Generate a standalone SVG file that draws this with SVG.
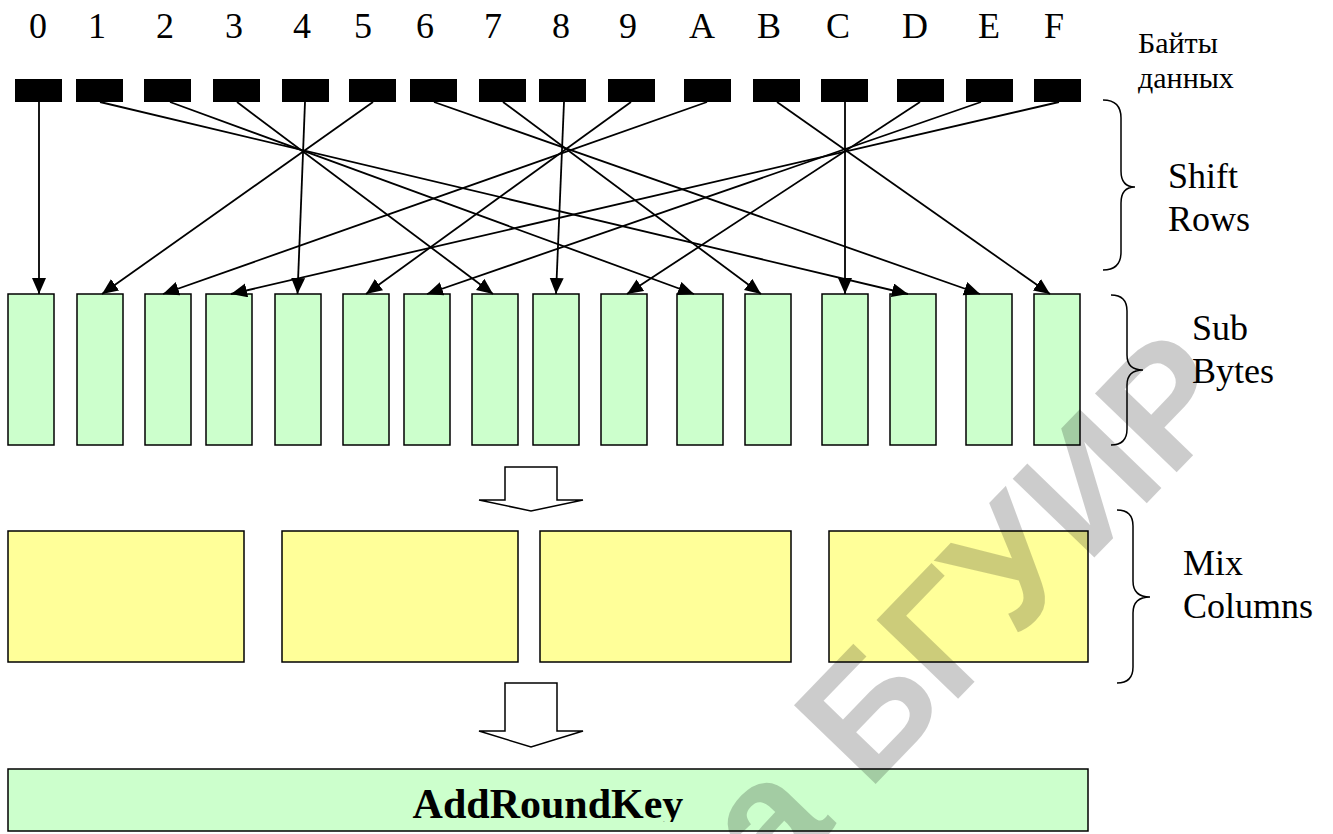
<svg xmlns="http://www.w3.org/2000/svg" width="1333" height="834" viewBox="0 0 1333 834">
<style>
.lbl{font-family:"Liberation Serif","Times New Roman",serif;fill:#000}
.dig{font-size:36px;text-anchor:middle}
.side{font-size:36px}
.small{font-size:30px}
.inb{fill:#000;stroke:none}
.sb{fill:#CCFFCC;stroke:#000;stroke-width:1.5}
.mc{fill:#FFFF99;stroke:#000;stroke-width:1.5}
.conn line{stroke:#000;stroke-width:1.8;marker-end:url(#ah)}
.brace{fill:none;stroke:#000;stroke-width:1.5}
.blk{fill:#fff;stroke:#000;stroke-width:1.5;stroke-linejoin:miter}
.wm{font-family:"Liberation Sans",Arial,sans-serif;font-weight:bold;font-size:165px;fill:#000;fill-opacity:0.2}
</style>
<defs>
<marker id="ah" markerUnits="userSpaceOnUse" markerWidth="17" markerHeight="15" refX="16" refY="7" orient="auto">
<path d="M0,0 L16,7 L0,14 z" fill="#000"/>
</marker>
<clipPath id="arkclip"><rect x="8" y="769" width="1080" height="53"/></clipPath>
</defs>
<rect width="1333" height="834" fill="#fff"/>

<g id="index-labels" class="lbl dig">
<text x="38" y="38">0</text>
<text x="97" y="38">1</text>
<text x="165" y="38">2</text>
<text x="234" y="38">3</text>
<text x="302" y="38">4</text>
<text x="363" y="38">5</text>
<text x="425" y="38">6</text>
<text x="493" y="38">7</text>
<text x="561" y="38">8</text>
<text x="628" y="38">9</text>
<text x="702" y="38">A</text>
<text x="769" y="38">B</text>
<text x="838" y="38">C</text>
<text x="915" y="38">D</text>
<text x="989" y="38">E</text>
<text x="1054" y="38">F</text>
</g>

<g id="input-bytes">
<rect id="in0" class="inb" x="15" y="79" width="47" height="23"/>
<rect id="in1" class="inb" x="76" y="79" width="47" height="23"/>
<rect id="in2" class="inb" x="144" y="79" width="47" height="23"/>
<rect id="in3" class="inb" x="213" y="79" width="47" height="23"/>
<rect id="in4" class="inb" x="282" y="79" width="47" height="23"/>
<rect id="in5" class="inb" x="349" y="79" width="47" height="23"/>
<rect id="in6" class="inb" x="410" y="79" width="47" height="23"/>
<rect id="in7" class="inb" x="479" y="79" width="47" height="23"/>
<rect id="in8" class="inb" x="539" y="79" width="47" height="23"/>
<rect id="in9" class="inb" x="608" y="79" width="47" height="23"/>
<rect id="inA" class="inb" x="684" y="79" width="47" height="23"/>
<rect id="inB" class="inb" x="753" y="79" width="47" height="23"/>
<rect id="inC" class="inb" x="821" y="79" width="47" height="23"/>
<rect id="inD" class="inb" x="897" y="79" width="47" height="23"/>
<rect id="inE" class="inb" x="966" y="79" width="47" height="23"/>
<rect id="inF" class="inb" x="1034" y="79" width="47" height="23"/>
</g>

<g id="sub-bytes">
<rect id="sb0" class="sb" x="8" y="294" width="46" height="151"/>
<rect id="sb1" class="sb" x="77" y="294" width="46" height="151"/>
<rect id="sb2" class="sb" x="145" y="294" width="46" height="151"/>
<rect id="sb3" class="sb" x="206" y="294" width="46" height="151"/>
<rect id="sb4" class="sb" x="275" y="294" width="46" height="151"/>
<rect id="sb5" class="sb" x="343" y="294" width="46" height="151"/>
<rect id="sb6" class="sb" x="404" y="294" width="46" height="151"/>
<rect id="sb7" class="sb" x="472" y="294" width="46" height="151"/>
<rect id="sb8" class="sb" x="533" y="294" width="46" height="151"/>
<rect id="sb9" class="sb" x="601" y="294" width="46" height="151"/>
<rect id="sbA" class="sb" x="677" y="294" width="46" height="151"/>
<rect id="sbB" class="sb" x="745" y="294" width="46" height="151"/>
<rect id="sbC" class="sb" x="822" y="294" width="46" height="151"/>
<rect id="sbD" class="sb" x="890" y="294" width="46" height="151"/>
<rect id="sbE" class="sb" x="966" y="294" width="46" height="151"/>
<rect id="sbF" class="sb" x="1034" y="294" width="46" height="151"/>
</g>

<g id="connectors" class="conn">
<line x1="39" y1="102" x2="39" y2="294"/>
<line x1="100" y1="102" x2="908" y2="294"/>
<line x1="170" y1="102" x2="694" y2="294"/>
<line x1="237" y1="102" x2="493" y2="294"/>
<line x1="305" y1="102" x2="297.5" y2="294"/>
<line x1="373" y1="102" x2="102" y2="294"/>
<line x1="434" y1="102" x2="980" y2="294"/>
<line x1="503" y1="102" x2="761" y2="294"/>
<line x1="564" y1="102" x2="556" y2="294"/>
<line x1="631" y1="102" x2="366" y2="294"/>
<line x1="707" y1="102" x2="163" y2="294"/>
<line x1="777" y1="102" x2="1050" y2="294"/>
<line x1="845" y1="102" x2="845" y2="294"/>
<line x1="920" y1="102" x2="627" y2="294"/>
<line x1="981" y1="102" x2="427" y2="294"/>
<line x1="1059" y1="102" x2="231" y2="294"/>
</g>

<g id="block-arrow-1">
<polygon class="blk" points="505,467 557,467 557,500 583,500 531,511 479,500 505,500"/>
</g>

<g id="mix-columns">
<rect id="mc0" class="mc" x="8" y="531" width="236" height="131"/>
<rect id="mc1" class="mc" x="282" y="531" width="236" height="131"/>
<rect id="mc2" class="mc" x="540" y="531" width="251" height="131"/>
<rect id="mc3" class="mc" x="829" y="531" width="259" height="131"/>
</g>

<g id="block-arrow-2">
<polygon class="blk" points="505,683 557,683 557,731 583,731 531,747 479,731 505,731"/>
</g>

<g id="add-round-key">
<rect class="sb" x="8" y="769" width="1080" height="62"/>
<text class="lbl" x="548" y="818" font-size="42" font-weight="bold" text-anchor="middle" clip-path="url(#arkclip)">AddRoundKey</text>
</g>

<g id="label-bytes" class="lbl small">
<text x="1138" y="53">Байты</text>
<text x="1138" y="88">данных</text>
</g>

<g id="label-shift-rows">
<path class="brace" d="M1103,100 Q1121,100 1121,118 L1121,171 Q1121,187 1135,187 Q1121,187 1121,203 L1121,252 Q1121,270 1103,270"/>
<text class="lbl side" x="1168" y="188">Shift</text>
<text class="lbl side" x="1168" y="231">Rows</text>
</g>

<g id="label-sub-bytes">
<path class="brace" d="M1111,295 Q1127,295 1127,311 L1127,355 Q1127,370 1143,370 Q1127,370 1127,385 L1127,429 Q1127,445 1111,445"/>
<text class="lbl side" x="1192" y="340">Sub</text>
<text class="lbl side" x="1192" y="383">Bytes</text>
</g>

<g id="label-mix-columns">
<path class="brace" d="M1117,510 Q1133,510 1133,526 L1133,581 Q1133,597 1150,597 Q1133,597 1133,613 L1133,667 Q1133,683 1117,683"/>
<text class="lbl side" x="1183" y="575">Mix</text>
<text class="lbl side" x="1183" y="618">Columns</text>
</g>

<g id="watermark" transform="translate(868,792) rotate(-46)">
<text class="wm" x="-45" y="0" text-anchor="end">а</text>
<text class="wm" x="0" y="0">БГУИР</text>
</g>
</svg>
